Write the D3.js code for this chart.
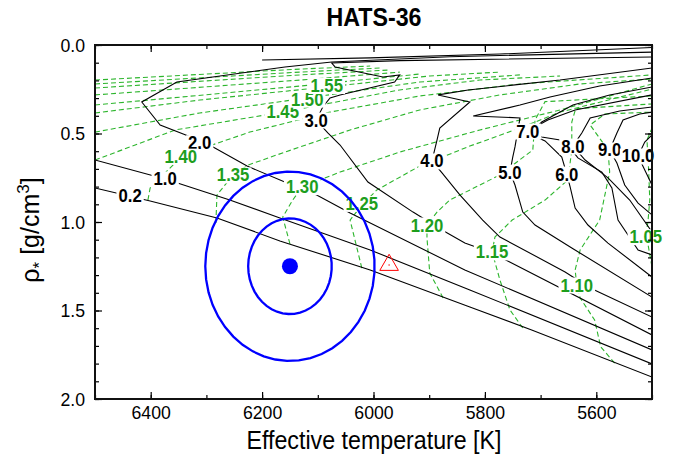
<!DOCTYPE html>
<html><head><meta charset="utf-8">
<script src="https://cdn.jsdelivr.net/npm/d3@7"></script>
<style>body{margin:0;background:#fff;} svg{display:block;}</style>
</head><body><svg id="c" width="685" height="462"></svg>
<script>
// ---------- data ----------
const xMajorTicks = [6400, 6200, 6000, 5800, 5600];
const yMajorTicks = [0.0, 0.5, 1.0, 1.5, 2.0];
const xDomain = [6500, 5500];
const yDomain = [0, 2];

// isochrones (age in Gyr): [Teff, rho]
const isoAges = ["0.2", "1.0", "2.0", "3.0", "4.0", "5.0", "6.0", "7.0", "8.0", "9.0", "10.0"];
const iso02 = [[6500,0.808],[6401,0.881],[6281,0.977],[6168,1.107],[6006,1.271],[5827,1.480],[5716,1.610],[5500,1.876]];
const iso10 = [[6500,0.650],[6374,0.757],[6258,0.876],[6168,0.977],[6006,1.158],[5827,1.384],[5500,1.802]];
const iso10top = [[6200,0.085],[6006,0.073],[5773,0.051],[5500,0.014]];
const iso20 = [[5500,1.723],[5836,1.271],[6042,0.949],[6102,0.847],[6155,0.780],[6227,0.684],[6288,0.576],[6337,0.508],[6383,0.452],[6416,0.322],[6353,0.209],[6159,0.124],[6075,0.096],[5863,0.066],[5500,0.040]];
const iso30 = [[5500,1.638],[5791,1.169],[5836,1.119],[5877,1.045],[5929,0.944],[6010,0.774],[6060,0.565],[6082,0.497],[6103,0.424],[6091,0.350],[6078,0.299],[6060,0.282],[5962,0.209],[5953,0.169],[5983,0.181],[6069,0.124],[6075,0.102],[5953,0.088],[5500,0.068]];
const iso40 = [[5500,1.537],[5611,1.373],[5656,1.282],[5773,1.085],[5804,0.989],[5845,0.847],[5877,0.723],[5895,0.655],[5886,0.537],[5881,0.469],[5827,0.322],[5884,0.282],[5830,0.254],[5665,0.198],[5500,0.130]];
const iso50 = [[5500,1.424],[5644,1.147],[5710,1.017],[5732,0.944],[5746,0.791],[5755,0.718],[5750,0.633],[5746,0.576],[5737,0.412],[5821,0.401],[5737,0.339],[5683,0.294],[5594,0.232],[5500,0.186]];
const iso60 = [[5500,1.311],[5579,1.119],[5615,1.017],[5638,0.921],[5647,0.802],[5653,0.729],[5662,0.633],[5692,0.542],[5719,0.503],[5698,0.435],[5642,0.339],[5576,0.282],[5500,0.237]];
const iso70 = [[5500,1.186],[5525,1.158],[5561,0.989],[5572,0.808],[5590,0.718],[5633,0.638],[5647,0.582],[5665,0.537],[5698,0.520],[5723,0.486],[5687,0.424],[5638,0.367],[5500,0.282]];
const iso80 = [[5500,1.056],[5540,0.876],[5579,0.751],[5620,0.650],[5642,0.571],[5626,0.497],[5611,0.412],[5558,0.373],[5500,0.350]];
const iso90 = [[5500,0.960],[5525,0.893],[5549,0.791],[5563,0.667],[5576,0.593],[5563,0.497],[5552,0.424],[5522,0.390],[5500,0.379]];
const iso100 = [[5500,0.791],[5513,0.706],[5525,0.627],[5513,0.548],[5500,0.508]];
const isoLabelPos = [[6437,0.853],[6374,0.757],[6312,0.552],[6103,0.424],[5895,0.655],[5755,0.718],[5653,0.729],[5723,0.486],[5642,0.571],[5576,0.593],[5525,0.627]];

// evolutionary tracks (mass in Msun): [Teff, rho]
const trackMasses = ["1.05","1.10","1.15","1.20","1.25","1.30","1.35","1.40","1.45","1.50","1.55"];
const trk105 = [[5493,1.384],[5500,1.254],[5507,1.130],[5511,1.085],[5507,0.989],[5504,0.876],[5506,0.706],[5509,0.537],[5500,0.469],[5486,0.424]];
const trk110 = [[5567,1.797],[5592,1.706],[5603,1.554],[5629,1.429],[5635,1.356],[5638,1.271],[5629,1.158],[5594,0.989],[5576,0.718],[5579,0.593],[5611,0.452],[5585,0.390],[5500,0.379]];
const trk115 = [[5732,1.599],[5755,1.497],[5773,1.328],[5787,1.169],[5782,1.085],[5751,0.989],[5692,0.876],[5651,0.763],[5644,0.593],[5644,0.435],[5637,0.360],[5500,0.333]];
const trk120 = [[5875,1.429],[5899,1.288],[5904,1.090],[5904,1.017],[5886,0.944],[5863,0.876],[5773,0.734],[5714,0.593],[5710,0.424],[5692,0.320],[5500,0.288]];
const trk125 = [[6021,1.260],[6042,0.989],[6021,0.904],[5994,0.819],[5917,0.684],[5827,0.571],[5737,0.469],[5665,0.379],[5500,0.249]];
const trk130 = [[6150,1.124],[6163,0.972],[6145,0.876],[6128,0.802],[6060,0.718],[5953,0.605],[5809,0.480],[5665,0.367],[5500,0.220]];
const trk135 = [[6283,1.006],[6281,0.847],[6252,0.734],[6225,0.678],[6159,0.605],[6042,0.480],[5917,0.367],[5773,0.282],[5629,0.220],[5500,0.192]];
const trk140 = [[6405,0.876],[6401,0.808],[6342,0.621],[6222,0.492],[6078,0.379],[5917,0.288],[5737,0.220],[5500,0.169]];
const trk145 = [[6500,0.650],[6356,0.480],[6163,0.379],[5953,0.254],[5809,0.198],[5665,0.175]];
const trk150 = [[6500,0.492],[6312,0.384],[6119,0.299],[5917,0.209],[5737,0.169]];
const trk155 = [[6500,0.384],[6312,0.311],[6084,0.237],[5899,0.175],[5773,0.153]];
const trk160 = [[6500,0.339],[6132,0.232],[5917,0.164]];
const trk165 = [[6500,0.282],[6132,0.198],[5953,0.153]];
const trk170 = [[6500,0.243],[6132,0.169],[5970,0.141]];
const trk175 = [[6500,0.220],[6132,0.153],[5988,0.130]];
const trk180 = [[6500,0.198],[6132,0.136],[6006,0.119]];
const trackLabelPos = [[5511,1.083],[5635,1.356],[5787,1.169],[5904,1.017],[6021,0.895],[6128,0.800],[6252,0.734],[6346,0.628],[6163,0.378],[6119,0.306],[6084,0.229]];

// HATS-36 measurement and comparison point
const starTeff = 6150, starRho = 1.25;
const sigma1 = [75, 0.27];
const sigma2 = [152, 0.535];
const trianglePoint = [5972, 1.243];

// ---------- drawing ----------
const M = {left: 95, right: 652, top: 45, bottom: 399};
const svg = d3.select("#c");
const x = d3.scaleLinear().domain(xDomain).range([M.left, M.right]);
const y = d3.scaleLinear().domain(yDomain).range([M.top, M.bottom]);
const line = d3.line().x(d => x(d[0])).y(d => y(d[1]));
const font = "Liberation Sans, Arial, Helvetica, sans-serif";

svg.append("defs").append("clipPath").attr("id", "plotclip")
  .append("rect").attr("x", M.left).attr("y", M.top)
  .attr("width", M.right - M.left).attr("height", M.bottom - M.top);

const plot = svg.append("g").attr("clip-path", "url(#plotclip)");

const greenLine = "#2db52d";
const greenText = "#1d9e1d";

function narrow(sel, f) {
  sel.each(function () {
    const len = this.getComputedTextLength();
    d3.select(this).attr("textLength", len * f).attr("lengthAdjust", "spacingAndGlyphs");
  });
}

const tracks = [trk105, trk110, trk115, trk120, trk125, trk130, trk135, trk140, trk145, trk150, trk155, trk160, trk165, trk170, trk175, trk180];
plot.selectAll("path.trk").data(tracks).join("path").attr("class", "trk")
  .attr("d", line).attr("fill", "none").attr("stroke", greenLine)
  .attr("stroke-width", 1.1).attr("stroke-dasharray", "5,3");

const isos = [iso02, iso10, iso10top, iso20, iso30, iso40, iso50, iso60, iso70, iso80, iso90, iso100];
plot.selectAll("path.iso").data(isos).join("path").attr("class", "iso")
  .attr("d", line).attr("fill", "none").attr("stroke", "#000")
  .attr("stroke-width", 1.1);

// labels with white backgrounds
const labels = isoAges.map((t, i) => ({text: t, p: isoLabelPos[i], color: "#000"}))
  .concat(trackMasses.map((t, i) => ({text: t, p: trackLabelPos[i], color: greenText})));
const lg = svg.append("g");
labels.forEach(l => {
  const g = lg.append("g");
  const t = g.append("text").attr("x", x(l.p[0])).attr("y", y(l.p[1]) + 6.5)
    .attr("text-anchor", "middle")
    .attr("font-family", font).attr("font-weight", "bold")
    .attr("font-size", 18).attr("fill", l.color).text(l.text);
  narrow(t, 0.93);
  const b = t.node().getBBox();
  g.insert("rect", "text").attr("x", b.x - 2).attr("y", b.y + 2)
    .attr("width", b.width + 4).attr("height", b.height - 4).attr("fill", "#fff");
});

// ellipses
function ellipse(s) {
  return d3.range(0, 361, 8).map(a => [starTeff + s[0] * Math.cos(a * Math.PI / 180), starRho + s[1] * Math.sin(a * Math.PI / 180)]);
}
svg.append("g").attr("clip-path", "url(#plotclip)").selectAll("path.ell").data([sigma1, sigma2]).join("path")
  .attr("d", s => line(ellipse(s))).attr("fill", "none").attr("stroke", "#0000ff").attr("stroke-width", 2.3);
svg.append("circle").attr("cx", x(starTeff)).attr("cy", y(starRho)).attr("r", 8).attr("fill", "#0000ff");

// comparison triangle
svg.append("path").attr("d", d3.symbol(d3.symbolTriangle, 150)())
  .attr("transform", `translate(${x(trianglePoint[0])},${y(trianglePoint[1])})`)
  .attr("fill", "none").attr("stroke", "#ff0000").attr("stroke-width", 1);
svg.append("circle").attr("cx", x(trianglePoint[0])).attr("cy", y(trianglePoint[1])).attr("r", 0.7).attr("fill", "#ff0000");

// axes
const xMinor = d3.range(6500, 5499, -100);
const yMinor = d3.range(0, 2.0001, 0.1);
function styleAxis(g) {
  g.select(".domain").remove();
  g.selectAll(".tick line").attr("stroke", "#000").attr("stroke-width", 1.2);
  g.selectAll("text").attr("font-family", font).attr("font-size", 19).attr("fill", "#000");
  narrow(g.selectAll("text"), 0.93);
}
svg.append("g").attr("transform", `translate(0,${M.bottom})`)
  .call(d3.axisBottom(x).tickValues(xMinor).tickSize(-4).tickFormat("")).call(styleAxis);
svg.append("g").attr("transform", `translate(0,${M.bottom})`)
  .call(d3.axisBottom(x).tickValues(xMajorTicks).tickSize(-7).tickPadding(7).tickFormat(d3.format("d"))).call(styleAxis);
svg.append("g").attr("transform", `translate(0,${M.top})`)
  .call(d3.axisTop(x).tickValues(xMinor).tickSize(-4).tickFormat("")).call(styleAxis);
svg.append("g").attr("transform", `translate(0,${M.top})`)
  .call(d3.axisTop(x).tickValues(xMajorTicks).tickSize(-7).tickFormat("")).call(styleAxis);
svg.append("g").attr("transform", `translate(${M.left},0)`)
  .call(d3.axisLeft(y).tickValues(yMinor).tickSize(-4).tickFormat("")).call(styleAxis);
svg.append("g").attr("transform", `translate(${M.left},0)`)
  .call(d3.axisLeft(y).tickValues(yMajorTicks).tickSize(-7).tickPadding(10).tickFormat(d3.format(".1f"))).call(styleAxis);
svg.append("g").attr("transform", `translate(${M.right},0)`)
  .call(d3.axisRight(y).tickValues(yMinor).tickSize(-4).tickFormat("")).call(styleAxis);
svg.append("g").attr("transform", `translate(${M.right},0)`)
  .call(d3.axisRight(y).tickValues(yMajorTicks).tickSize(-7).tickFormat("")).call(styleAxis);

svg.append("rect").attr("x", M.left).attr("y", M.top).attr("width", M.right - M.left)
  .attr("height", M.bottom - M.top).attr("fill", "none").attr("stroke", "#111").attr("stroke-width", 2);

// titles
svg.append("text").attr("x", 374).attr("y", 26).attr("text-anchor", "middle")
  .attr("font-family", font).attr("font-weight", "bold").attr("font-size", 25)
  .attr("textLength", 95).attr("lengthAdjust", "spacingAndGlyphs").text("HATS-36");
svg.append("text").attr("x", 374).attr("y", 449).attr("text-anchor", "middle")
  .attr("font-family", font).attr("font-size", 25)
  .attr("textLength", 255).attr("lengthAdjust", "spacingAndGlyphs").text("Effective temperature [K]");
const yl = svg.append("text").attr("transform", "translate(39,230) rotate(-90)").attr("text-anchor", "middle")
  .attr("font-family", font).attr("font-size", 25);
yl.append("tspan").text("ρ");
yl.append("tspan").attr("dy", 6).attr("font-size", 17).text("*");
yl.append("tspan").attr("dy", -6).text(" [g/cm");
yl.append("tspan").attr("dy", -10).attr("font-size", 17).text("3");
yl.append("tspan").attr("dy", 10).text("]");
</script>
</body></html>
